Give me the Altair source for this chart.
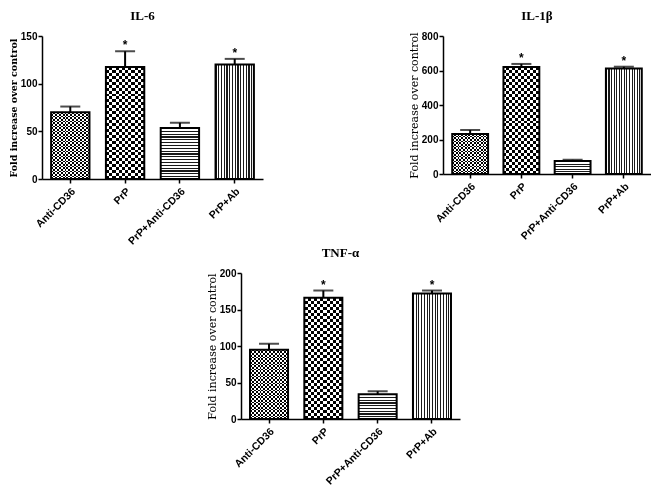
import altair as alt
import pandas as pd

categories = ["Anti-CD36", "PrP", "PrP+Anti-CD36", "PrP+Ab"]
significance = ["", "*", "", "*"]

il6_mean = [70, 117.5, 53.5, 120]
il6_sem = [6, 16.5, 5.5, 6]
il6_ticks = [0, 50, 100, 150]

il1b_mean = [232, 620, 76, 612]
il1b_sem = [23, 18, 6, 10]
il1b_ticks = [0, 200, 400, 600, 800]

tnf_mean = [95, 166, 34, 172]
tnf_sem = [8, 10, 4, 4]
tnf_ticks = [0, 50, 100, 150, 200]

TITLE_FONT = "Liberation Serif"
LABEL_FONT = "Liberation Sans"


def stripes(n, frac, dark, light, along_x):
    stops = []
    n = max(int(round(n)), 1)
    for i in range(n):
        a = i / n
        b = (i + frac) / n
        c = (i + 1) / n if i < n - 1 else 1.0
        stops += [
            alt.GradientStop(color=dark, offset=a),
            alt.GradientStop(color=dark, offset=b),
            alt.GradientStop(color=light, offset=b),
            alt.GradientStop(color=light, offset=c),
        ]
    if along_x:
        return alt.LinearGradient(gradient="linear", stops=stops, x1=0, x2=1, y1=0, y2=0)
    return alt.LinearGradient(gradient="linear", stops=stops, x1=0, x2=0, y1=0, y2=1)


def panel(title, means, sems, ticks, w, h, pad_outer, align, ytitle_weight, ytitle_size):
    ymax = ticks[-1]
    df = pd.DataFrame({"group": categories, "mean": means, "sem": sems, "sig": significance})
    x = alt.X(
        "group:N",
        sort=categories,
        title=None,
        scale=alt.Scale(domain=categories, paddingInner=0.3, paddingOuter=pad_outer, align=align),
        axis=alt.Axis(
            labelAngle=-45,
            labelFont=LABEL_FONT,
            labelFontWeight="bold",
            labelFontSize=10.5,
            labelColor="black",
            labelPadding=3,
            labelOverlap=False,
            tickSize=4,
        ),
    )
    y_scale = alt.Scale(domain=[0, ymax], nice=False)
    y_axis = alt.Axis(
        values=ticks,
        grid=False,
        title="Fold increase over control",
        titleFont="DejaVu Serif",
        titleFontWeight=ytitle_weight,
        titleFontSize=ytitle_size,
        titleColor="black",
        titlePadding=2,
        labelFont=LABEL_FONT,
        labelFontWeight="bold",
        labelFontSize=10,
        labelColor="black",
        labelOverlap=False,
        labelPadding=1,
        tickSize=4,
    )
    y = alt.Y("mean:Q", scale=y_scale, axis=y_axis)
    y_top = alt.Y("top:Q", scale=y_scale, axis=y_axis)
    base = alt.Chart(df).encode(x=x, y=y)
    hpx = [m / ymax * h for m in means]
    layers = []
    # Anti-CD36: fine checker
    flt = alt.datum.group == categories[0]
    layers.append(base.transform_filter(flt).mark_bar(fill=stripes(10, 0.5, "black", "white", True)))
    layers.append(base.transform_filter(flt).mark_bar(
        fill=stripes(hpx[0] / 3.4, 0.5, "white", "black", False), blend="difference"))
    # PrP: coarse checker
    flt = alt.datum.group == categories[1]
    layers.append(base.transform_filter(flt).mark_bar(fill=stripes(6.5, 0.5, "black", "white", True)))
    layers.append(base.transform_filter(flt).mark_bar(
        fill=stripes(hpx[1] / 6, 0.5, "white", "black", False), blend="difference"))
    # PrP+Anti-CD36: horizontal lines
    flt = alt.datum.group == categories[2]
    layers.append(base.transform_filter(flt).mark_bar(fill=stripes(hpx[2] / 2.8, 0.4, "#1a1a1a", "white", False)))
    # PrP+Ab: vertical lines
    flt = alt.datum.group == categories[3]
    layers.append(base.transform_filter(flt).mark_bar(fill=stripes(14, 0.4, "#1a1a1a", "white", True)))
    # outline
    layers.append(base.mark_bar(fillOpacity=0, stroke="black", strokeWidth=2))
    err = base.transform_calculate(top="datum.mean + datum.sem")
    layers.append(err.mark_rule(color="black", strokeWidth=2).encode(y=y, y2="top:Q"))
    layers.append(err.mark_tick(color="black", thickness=2, size=20, orient="horizontal").encode(y=y_top))
    layers.append(err.mark_text(fontSize=12, fontWeight="bold", font=LABEL_FONT, baseline="bottom", dy=1, color="black")
                  .encode(y=y_top, text="sig:N"))
    return alt.layer(*layers).properties(
        width=w,
        height=h,
        title=alt.TitleParams(title, font=TITLE_FONT, fontSize=13, fontWeight="bold", color="black",
                              offset=8, dx=-10),
    )


il6 = panel("IL-6", il6_mean, il6_sem, il6_ticks, 221, 143, 0.166, 0.5, "bold", 9.5)
il1b = panel("IL-1β", il1b_mean, il1b_sem, il1b_ticks, 208, 138, 0.18, 0.5, "normal", 11)
tnf = panel("TNF-α", tnf_mean, tnf_sem, tnf_ticks, 219, 146, 0.166, 0.5, "normal", 11)

spacer = alt.Chart(pd.DataFrame({"a": [0]})).mark_point(opacity=0).encode(
    x=alt.X("a:Q", axis=None), y=alt.Y("a:Q", axis=None)
).properties(width=164, height=10)

top = alt.hconcat(il6, il1b, spacing=145)
bottom = alt.hconcat(spacer, tnf, spacing=0)
chart = alt.vconcat(top, bottom, spacing=0).properties(
    padding={"left": 0, "top": 2, "right": 0, "bottom": 0}
).configure_view(stroke=None).configure_axis(
    domainColor="black", domainWidth=1.5, tickColor="black", tickWidth=1.5
)

chart.save("out.html", embed_options={"renderer": "svg", "actions": False})
